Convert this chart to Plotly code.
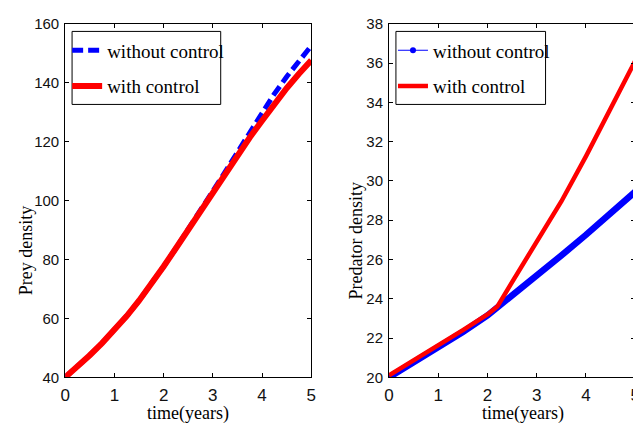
import plotly.graph_objects as go

# ---- data ----
t_prey = [0, 0.25, 0.5, 0.75, 1, 1.25, 1.5, 1.75, 2, 2.25, 2.5, 2.75, 3,
          3.25, 3.5, 3.75, 4, 4.25, 4.5, 4.75, 5]
prey_without = [40, 43.6, 47.5, 51.6, 56, 60.8, 66, 71.6, 77.6, 83.8, 90.1, 96.5, 103,
                109.7, 116.4, 123, 129.8, 136.2, 142, 147.5, 152.5]
prey_with = [40, 43.6, 47.5, 51.6, 56, 60.8, 66, 71.6, 77.6, 83.8, 90.1, 96.5, 103,
             109.3, 115.5, 121.4, 127.1, 132.7, 138.1, 143, 147.6]

t_pred = [0, 0.5, 1, 1.5, 2, 2.2, 2.5, 3, 3.5, 4, 4.5, 5]
pred_without = [20, 20.75, 21.5, 22.3, 23.15, 23.55, 24.1, 25.1, 26.2, 27.25, 28.35, 29.45]
pred_with = [20.1, 20.85, 21.6, 22.4, 23.2, 23.6, 24.85, 26.85, 28.95, 31.25, 33.65, 36.1]

x_ticks = [0, 1, 2, 3, 4, 5]
prey_ticks = [40, 60, 80, 100, 120, 140, 160]
pred_ticks = [20, 22, 24, 26, 28, 30, 32, 34, 36, 38]

BLUE = "#0000ff"
RED = "#ff0000"
SANS = "Liberation Sans, Arial, sans-serif"
SERIF = "Liberation Serif, Times New Roman, serif"

fig = go.Figure()

# left panel
fig.add_trace(go.Scatter(x=t_prey, y=prey_without, mode="lines", name="without control",
                         line=dict(color=BLUE, width=5, dash="11px,5px"),
                         xaxis="x", yaxis="y", legend="legend", legendgroup="a"))
fig.add_trace(go.Scatter(x=t_prey, y=prey_with, mode="lines", name="with control",
                         line=dict(color=RED, width=6),
                         xaxis="x", yaxis="y", legend="legend", legendgroup="b"))

# right panel
fig.add_trace(go.Scatter(x=t_pred, y=pred_without, mode="lines", name="without control",
                         line=dict(color=BLUE, width=6.5), showlegend=False,
                         xaxis="x2", yaxis="y2"))
fig.add_trace(go.Scatter(x=[None], y=[None], mode="lines+markers", name="without control",
                         line=dict(color=BLUE, width=1), marker=dict(color=BLUE, size=6),
                         xaxis="x2", yaxis="y2", legend="legend2", legendgroup="c"))
fig.add_trace(go.Scatter(x=t_pred, y=pred_with, mode="lines", name="with control",
                         line=dict(color=RED, width=4.5),
                         xaxis="x2", yaxis="y2", legend="legend2", legendgroup="d"))

W, H = 641, 434
OFF = 8  # default page body margin around the plot div


def px_x(v):
    return (v - OFF) / W


def px_y(v):
    return 1 - (v - OFF) / H


axis_common = dict(showline=True, linecolor="black", linewidth=1, mirror="allticks",
                   ticks="inside", ticklen=4, tickwidth=1, tickcolor="black",
                   showgrid=False, zeroline=False, ticklabelstandoff=2,
                   ticklabeloverflow="allow")
xfont = dict(family=SANS, size=17, color="#111111")
yfont = dict(family=SANS, size=15, color="#111111")

legend_common = dict(xanchor="left", yanchor="top", bgcolor="rgba(0,0,0,0)", borderwidth=0,
                     font=dict(family=SERIF, size=19, color="black"), tracegroupgap=8)

fig.update_layout(
    width=W, height=H,
    margin=dict(l=0, r=0, t=0, b=0),
    paper_bgcolor="white", plot_bgcolor="white",
    xaxis=dict(domain=[px_x(61), px_x(311)], range=[0, 5], tickvals=x_ticks, anchor="y",
               tickfont=xfont, **axis_common),
    yaxis=dict(domain=[px_y(383), px_y(15)], range=[40, 160], tickvals=prey_ticks, anchor="x",
               tickfont=yfont, **axis_common),
    xaxis2=dict(domain=[px_x(390), px_x(640)], range=[0, 5], tickvals=x_ticks, anchor="y2",
                tickfont=xfont, **axis_common),
    yaxis2=dict(domain=[px_y(383), px_y(15)], range=[20, 38], tickvals=pred_ticks, anchor="x2",
                tickfont=yfont, **axis_common),
    legend=dict(x=px_x(63), y=px_y(23), **legend_common),
    legend2=dict(x=px_x(394), y=px_y(23), **legend_common),
    showlegend=True,
)

# legend frames
for x0, x1 in [(68, 219), (397, 549)]:
    fig.add_shape(type="rect", xref="paper", yref="paper",
                  x0=px_x(x0), x1=px_x(x1), y0=px_y(99), y1=px_y(23),
                  line=dict(color="black", width=1), fillcolor="white", layer="above")

ann_font = dict(family=SERIF, size=18, color="black")
fig.add_annotation(text="time(years)", x=px_x(186), y=px_y(421), xref="paper", yref="paper",
                   showarrow=False, font=ann_font, xanchor="center", yanchor="middle")
fig.add_annotation(text="time(years)", x=px_x(526), y=px_y(421), xref="paper", yref="paper",
                   showarrow=False, font=ann_font, xanchor="center", yanchor="middle")
fig.add_annotation(text="Prey density", x=px_x(22), y=px_y(251), xref="paper", yref="paper",
                   showarrow=False, font=ann_font, textangle=-90, xanchor="center", yanchor="middle")
fig.add_annotation(text="Predator density", x=px_x(356), y=px_y(241), xref="paper", yref="paper",
                   showarrow=False, font=ann_font, textangle=-90, xanchor="center", yanchor="middle")

fig.write_html("out.html")
